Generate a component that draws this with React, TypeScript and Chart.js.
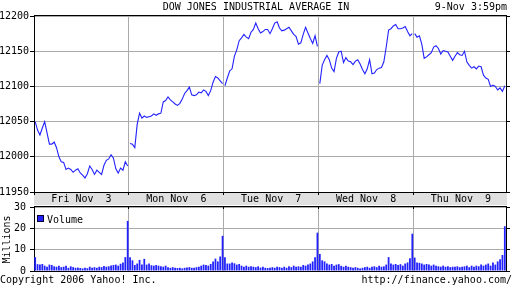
import React, { useEffect, useRef } from "react";
import { Chart, registerables } from "chart.js";
Chart.register(...registerables);

const TITLE = "DOW JONES INDUSTRIAL AVERAGE IN";
const STAMP = "9-Nov 3:59pm";
const dayLabels = ["Fri Nov  3", "Mon Nov  6", "Tue Nov  7", "Wed Nov  8", "Thu Nov  9"];
const dayBounds = [0, 1, 2, 3, 4];
const SLOTS = 40;
const priceTicks = [11950, 12000, 12050, 12100, 12150, 12200];
const volumeTicks = [0, 10, 20, 30];

const priceFri = [12050, 12038, 12031, 12041, 12050, 12034, 12018, 12018, 12021, 12013, 12000, 11993, 11992, 11982, 11984, 11982, 11978, 11981, 11983, 11977, 11974, 11970, 11976, 11987, 11982, 11975, 11981, 11978, 11975, 11988, 11995, 11997, 12003, 11998, 11983, 11977, 11984, 11981, 11993, 11987];
const priceMon = [12019, 12018, 12013, 12046, 12062, 12055, 12058, 12056, 12057, 12058, 12061, 12059, 12061, 12062, 12078, 12080, 12085, 12081, 12078, 12075, 12073, 12076, 12082, 12090, 12094, 12099, 12088, 12087, 12088, 12092, 12091, 12095, 12093, 12087, 12094, 12106, 12114, 12112, 12108, 12104];
const priceTue = [12101, 12112, 12122, 12125, 12143, 12152, 12165, 12169, 12174, 12170, 12168, 12177, 12181, 12190, 12182, 12176, 12178, 12181, 12181, 12175, 12182, 12190, 12192, 12183, 12179, 12180, 12182, 12184, 12179, 12174, 12171, 12160, 12162, 12174, 12184, 12176, 12168, 12161, 12172, 12157];
const priceWed = [12104, 12130, 12138, 12144, 12138, 12126, 12121, 12140, 12149, 12150, 12134, 12141, 12136, 12135, 12131, 12136, 12138, 12132, 12124, 12118, 12125, 12138, 12118, 12119, 12124, 12126, 12127, 12135, 12156, 12180, 12182, 12186, 12188, 12182, 12182, 12183, 12185, 12178, 12172, 12175];
const priceThu = [12175, 12170, 12172, 12160, 12140, 12142, 12145, 12148, 12156, 12158, 12154, 12146, 12151, 12150, 12149, 12143, 12137, 12143, 12148, 12145, 12144, 12150, 12135, 12130, 12126, 12128, 12125, 12129, 12128, 12116, 12112, 12110, 12100, 12102, 12100, 12095, 12098, 12093, 12101];

const volFri = [6.5, 3.2, 3.0, 3.3, 2.5, 2.0, 3.0, 2.8, 2.2, 2.0, 2.5, 1.8, 2.0, 2.5, 1.5, 2.2, 1.8, 1.5, 1.6, 1.4, 1.2, 1.5, 1.3, 2.0, 1.5, 1.8, 1.5, 2.0, 1.8, 2.4, 2.0, 2.2, 2.6, 2.8, 3.0, 2.5, 3.4, 4.0, 6.5, 23.5];
const volMon = [6.5, 5.0, 2.8, 3.5, 5.2, 3.0, 5.7, 3.0, 3.5, 2.7, 2.5, 2.8, 2.5, 2.2, 2.0, 2.5, 1.8, 1.5, 1.8, 1.5, 1.4, 1.5, 1.2, 1.5, 1.6, 1.8, 1.5, 1.5, 1.8, 2.0, 2.5, 3.0, 2.8, 2.5, 3.3, 4.5, 5.8, 4.5, 6.8, 16.5];
const volTue = [6.5, 3.5, 3.5, 4.0, 3.6, 3.0, 3.3, 2.5, 2.0, 2.5, 2.0, 2.2, 2.0, 1.8, 2.2, 1.6, 2.0, 1.5, 1.4, 1.5, 1.8, 1.5, 2.0, 1.8, 1.5, 2.0, 1.5, 2.2, 1.8, 2.5, 2.0, 2.2, 2.0, 2.8, 2.5, 3.0, 3.5, 4.5, 6.5, 18.0];
const volWed = [8.0, 5.0, 4.5, 3.5, 3.0, 3.3, 2.5, 3.0, 3.2, 2.4, 2.0, 2.5, 2.0, 1.8, 1.5, 1.8, 1.5, 1.2, 1.5, 1.8, 2.0, 1.5, 2.0, 2.2, 1.8, 2.5, 2.0, 2.2, 3.0, 6.5, 3.5, 3.0, 3.3, 2.8, 3.2, 2.5, 3.5, 4.0, 6.0, 17.5];
const volThu = [6.3, 4.0, 3.8, 3.5, 3.0, 3.3, 3.0, 2.5, 3.0, 2.5, 2.2, 2.0, 2.5, 2.0, 2.2, 1.8, 2.0, 2.0, 2.2, 1.8, 2.0, 2.2, 2.5, 1.8, 2.5, 2.0, 2.5, 2.2, 3.0, 2.5, 3.0, 3.5, 2.5, 4.0, 3.0, 4.5, 5.5, 7.5, 21.0];

const priceDays = [priceFri, priceMon, priceTue, priceWed, priceThu];
const volDays = [volFri, volMon, volTue, volWed, volThu];

const BLUE = "#2222ff";
const GRID = "#aaaaaa";
const BAND = "#e0e0e0";
const FAM = "'DejaVu Sans Mono', monospace";
const FONT = "10px " + FAM;

const priceDeco = {
  id: "priceDeco",
  beforeDraw(chart: any) {
    const { ctx, chartArea: a, scales } = chart;
    const x = scales.x;
    ctx.save();
    ctx.fillStyle = BAND;
    ctx.fillRect(a.left, a.bottom + 1, a.right - a.left + 1, 12);
    ctx.fillStyle = "#000";
    ctx.font = FONT;
    ctx.textAlign = "center";
    ctx.textBaseline = "middle";
    dayLabels.forEach((t, d) => {
      ctx.fillText(t, x.getPixelForValue(d + 0.5), a.bottom + 7);
    });
    ctx.restore();
  },
  afterDraw(chart: any) {
    const { ctx, chartArea: a, scales } = chart;
    const y = scales.y;
    ctx.save();
    ctx.fillStyle = "#000";
    ctx.font = FONT;
    ctx.textBaseline = "middle";
    ctx.textAlign = "center";
    ctx.fillText(TITLE, 256, 7);
    ctx.textAlign = "right";
    ctx.fillText(STAMP, 507, 7);
    ctx.strokeStyle = "#000";
    ctx.lineWidth = 1;
    ctx.beginPath();
    ctx.moveTo(a.left, a.top + 0.5);
    ctx.lineTo(a.right + 1, a.top + 0.5);
    ctx.moveTo(a.right + 0.5, a.top);
    ctx.lineTo(a.right + 0.5, a.bottom + 1);
    priceTicks.forEach((v) => {
      const p = Math.round(y.getPixelForValue(v) - 0.5) + 0.5;
      ctx.moveTo(a.right, p);
      ctx.lineTo(a.right + 4, p);
    });
    ctx.stroke();
    ctx.restore();
  },
};

const volDeco = {
  id: "volDeco",
  afterDraw(chart: any) {
    const { ctx, chartArea: a, scales } = chart;
    const y = scales.y;
    const x = scales.x;
    ctx.save();
    ctx.strokeStyle = "#000";
    ctx.lineWidth = 1;
    ctx.beginPath();
    ctx.moveTo(a.left, a.top + 0.5);
    ctx.lineTo(a.right + 1, a.top + 0.5);
    ctx.moveTo(a.right + 0.5, a.top);
    ctx.lineTo(a.right + 0.5, a.bottom + 1);
    volumeTicks.forEach((v) => {
      const p = Math.round(y.getPixelForValue(v) - 0.5) + 0.5;
      ctx.moveTo(a.right, p);
      ctx.lineTo(a.right + 4, p);
    });
    dayBounds.forEach((d) => {
      const p = Math.round(x.getPixelForValue(d) - 0.5) + 0.5;
      ctx.moveTo(p, a.top);
      ctx.lineTo(p, a.top + 3);
    });
    ctx.stroke();
    // legend
    ctx.fillStyle = BLUE;
    ctx.fillRect(a.left + 3, a.top + 9, 7, 7);
    ctx.strokeStyle = "#000033";
    ctx.strokeRect(a.left + 3.5, a.top + 9.5, 6, 6);
    ctx.fillStyle = "#000";
    ctx.font = FONT;
    ctx.textAlign = "left";
    ctx.textBaseline = "middle";
    ctx.fillText("Volume", a.left + 13, a.top + 14);
    // footer
    ctx.fillText("Copyright 2006 Yahoo! Inc.", 0, a.bottom + 9);
    ctx.textAlign = "right";
    ctx.fillText("http://finance.yahoo.com/", 512, a.bottom + 9);
    // axis title
    ctx.translate(7.5, (a.top + a.bottom) / 2 + 1);
    ctx.rotate(-Math.PI / 2);
    ctx.textAlign = "center";
    ctx.fillText("Millions", 0, 0);
    ctx.restore();
  },
};

export default function App() {
  const priceRef = useRef<HTMLCanvasElement>(null);
  const volRef = useRef<HTMLCanvasElement>(null);

  useEffect(() => {
    const priceDatasets = priceDays.map((arr, d) => ({
      data: arr.map((v, i) => ({ x: d + (i + 0.5) / SLOTS, y: v })),
      borderColor: BLUE,
      borderWidth: 1.1,
      pointRadius: 0,
      tension: 0,
      fill: false,
    }));
    const volData = volDays.flatMap((arr, d) => arr.map((v, i) => ({ x: d + (i + 0.5) / SLOTS, y: v })));

    const tickFont = { family: FAM, size: 10 };
    const plain = (v: any) => String(v);

    const c1 = new Chart(priceRef.current as HTMLCanvasElement, {
      type: "line",
      data: { datasets: priceDatasets as any },
      options: {
        responsive: false,
        animation: false,
        layout: { padding: { top: 15, right: 6, left: 0, bottom: 0 } },
        plugins: { legend: { display: false }, tooltip: { enabled: false } },
        scales: {
          x: {
            type: "linear",
            min: 0,
            max: 4.975,
            afterBuildTicks: (s: any) => {
              s.ticks = dayBounds.map((v) => ({ value: v }));
            },
            ticks: { display: false },
            grid: { color: GRID, tickColor: "#000", tickLength: 3, drawTicks: true },
            border: { color: "#000" },
            afterFit: (s: any) => {
              s.height = 14;
            },
          },
          y: {
            min: 11950,
            max: 12201.5,
            afterBuildTicks: (s: any) => {
              s.ticks = priceTicks.map((v) => ({ value: v }));
            },
            ticks: { font: tickFont, color: "#000", padding: 1, callback: plain },
            grid: { color: GRID, tickColor: "#000", tickLength: 4 },
            border: { color: "#000" },
            afterFit: (s: any) => {
              s.width = 34;
            },
          },
        },
      } as any,
      plugins: [priceDeco],
    });

    const c2 = new Chart(volRef.current as HTMLCanvasElement, {
      type: "bar",
      data: {
        datasets: [
          {
            data: volData as any,
            backgroundColor: BLUE,
            borderWidth: 0,
            barPercentage: 0.75,
            categoryPercentage: 1,
          },
        ],
      },
      options: {
        responsive: false,
        animation: false,
        layout: { padding: { top: 9, right: 6, left: 0, bottom: 17 } },
        plugins: { legend: { display: false }, tooltip: { enabled: false } },
        scales: {
          x: {
            type: "linear",
            min: 0,
            max: 4.975,
            offset: false,
            afterBuildTicks: (s: any) => {
              s.ticks = dayBounds.map((v) => ({ value: v }));
            },
            ticks: { display: false },
            grid: { color: GRID, drawTicks: false, offset: false },
            border: { color: "#000" },
            afterFit: (s: any) => {
              s.height = 0;
            },
          },
          y: {
            min: 0,
            max: 30.5,
            afterBuildTicks: (s: any) => {
              s.ticks = volumeTicks.map((v) => ({ value: v }));
            },
            ticks: { font: tickFont, color: "#000", padding: 4, callback: plain },
            grid: { color: GRID, tickColor: "#000", tickLength: 4 },
            border: { color: "#000" },
            afterFit: (s: any) => {
              s.width = 34;
            },
          },
        },
      } as any,
      plugins: [volDeco],
    });

    return () => {
      c1.destroy();
      c2.destroy();
    };
  }, []);

  return (
    <div style={{ position: "fixed", left: 0, top: 0, width: 512, height: 288, background: "#fff", overflow: "hidden" }}>
      <canvas ref={priceRef} width={512} height={206} style={{ position: "absolute", left: 0, top: 0, width: 512, height: 206 }} />
      <canvas ref={volRef} width={512} height={92} style={{ position: "absolute", left: 0, top: 196, width: 512, height: 92 }} />
    </div>
  );
}
